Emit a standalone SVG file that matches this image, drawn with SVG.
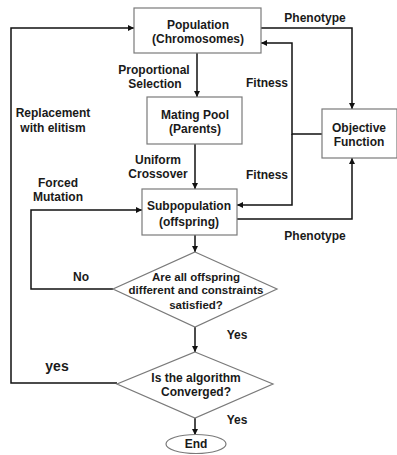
<svg xmlns="http://www.w3.org/2000/svg" width="397" height="455" viewBox="0 0 397 455">
<defs>
<marker id="ah" viewBox="0 0 8 8" refX="8" refY="4" markerWidth="6" markerHeight="6" markerUnits="userSpaceOnUse" orient="auto">
<path d="M0,0 L8,4 L0,8 Z" fill="#111"/>
</marker>
<style>
.box{fill:#fff;stroke:#7a7a7a;stroke-width:1.2}
.c{fill:none;stroke:#111;stroke-width:1.5}
.ca{fill:none;stroke:#111;stroke-width:1.5;marker-end:url(#ah)}
text{font-family:"Liberation Sans",Arial,sans-serif;font-weight:bold;font-size:12px;fill:#1a1a1a;text-anchor:middle}
</style>
</defs>
<rect width="397" height="455" fill="#fff"/>
<g id="connectors">
<path class="ca" d="M117,383 H11 V28 H134"/>
<path class="ca" d="M197,53 V97"/>
<path class="ca" d="M195,144 V189"/>
<path class="ca" d="M195,235 V252"/>
<path class="ca" d="M195,327 V352"/>
<path class="ca" d="M195,418 V435"/>
<path class="ca" d="M113,289 H31 V210 H142"/>
<path class="ca" d="M261,28 H352 V109"/>
<path class="ca" d="M322,134 H292 V43 H261"/>
<path class="ca" d="M292,134 V205 H237"/>
<path class="ca" d="M237,219 H352 V158"/>
</g>
<g id="labels">
<text x="315" y="22">Phenotype</text>
<text x="154" y="74">Proportional</text>
<text x="155" y="88">Selection</text>
<text x="53" y="117">Replacement</text>
<text x="53" y="132">with elitism</text>
<text x="267" y="87">Fitness</text>
<text x="158" y="164">Uniform</text>
<text x="158" y="178">Crossover</text>
<text x="58" y="187">Forced</text>
<text x="58" y="201">Mutation</text>
<text x="267" y="179">Fitness</text>
<text x="315" y="240">Phenotype</text>
<text x="81" y="281">No</text>
<text x="237" y="339">Yes</text>
<text x="57" y="371" style="font-size:14px">yes</text>
<text x="237" y="424">Yes</text>
</g>
<g id="population">
<rect class="box" x="134" y="8" width="127" height="45"/>
<text x="198" y="29">Population</text>
<text x="198" y="43">(Chromosomes)</text>
</g>
<g id="mating-pool">
<rect class="box" x="147" y="97" width="95" height="47"/>
<text x="195" y="119">Mating Pool</text>
<text x="195" y="133">(Parents)</text>
</g>
<g id="objective-function">
<rect class="box" x="322" y="109" width="75" height="49"/>
<text x="359" y="132">Objective</text>
<text x="359" y="146">Function</text>
</g>
<g id="subpopulation">
<rect class="box" x="142" y="189" width="95" height="46"/>
<text x="189" y="210">Subpopulation</text>
<text x="189" y="226">(offspring)</text>
</g>
<g id="check-offspring">
<polygon class="box" points="195,252 277,289 195,327 113,289"/>
<text x="196" y="281" style="font-size:11.5px">Are all offspring</text>
<text x="196" y="294" style="font-size:11.5px">different and constraints</text>
<text x="196" y="309" style="font-size:11.5px">satisfied?</text>
</g>
<g id="check-converged">
<polygon class="box" points="195,352 273,384 195,418 117,384"/>
<text x="196" y="382">Is the algorithm</text>
<text x="196" y="396">Converged?</text>
</g>
<g id="end">
<ellipse class="box" cx="196" cy="444" rx="30" ry="9.5"/>
<text x="196" y="448">End</text>
</g>
</svg>
